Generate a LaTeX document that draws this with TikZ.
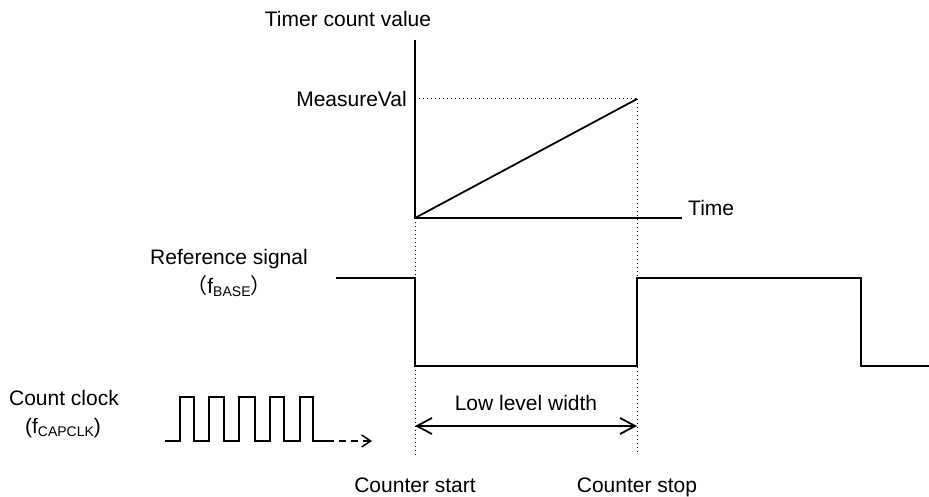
\documentclass[tikz,border=0pt]{standalone}
\usepackage{fontspec}
\setmainfont{Liberation Sans}
\newfontfamily\cjkfnt{Noto Sans CJK SC}
\usetikzlibrary{arrows.meta}
\newcommand{\mysubtxt}[1]{\raisebox{-0.35ex}{\fontsize{14}{14}\selectfont #1}}
\begin{document}
\begin{tikzpicture}[x=1pt,y=-1pt,
  lbl/.style={font=\fontsize{21}{21}\selectfont, inner sep=0pt, anchor=base},
  dotln/.style={line width=1pt, dash pattern=on 1pt off 3pt},
  solidln/.style={line width=1.8pt, line join=miter},
  barb/.style={-{Straight Barb[length=15pt,width=16pt,line width=1.8pt]}},
  dbarb/.style={{Straight Barb[length=15pt,width=16pt,line width=1.8pt]}-{Straight Barb[length=15pt,width=16pt,line width=1.8pt]}},
  smallbarb/.style={-{Straight Barb[length=9pt,width=12pt,line width=1.5pt]}}]
\useasboundingbox (0,0) rectangle (929,497);

% graph coordinates
\coordinate (O) at (415,218);
\coordinate (Ytop) at (415,40);
\coordinate (Xend) at (682,218);
\coordinate (M) at (637,99);
\coordinate (My) at (415,99);
\coordinate (S1) at (415,455);
\coordinate (S2) at (637,455);

% dotted guides
\draw[dotln] (My) -- (M);
\draw[dotln] (O) -- (S1);
\draw[dotln] (M) -- (S2);

% axes and ramp
\draw[solidln] (Ytop) -- (O) -- (Xend);
\draw[solidln] (O) -- (M);

% reference signal
\draw[solidln] (336,278) -- (415,278) -- (415,366) -- (637,366) -- (637,278) -- (861,278) -- (861,366) -- (929,366);

% count clock
\draw[solidln] (165,441) -- (180,441) -- (180,397) -- (194,397) -- (194,441)
  -- (209,441) -- (209,397) -- (224,397) -- (224,441)
  -- (239,441) -- (239,397) -- (255,397) -- (255,441)
  -- (270,441) -- (270,397) -- (284,397) -- (284,441)
  -- (300,441) -- (300,397) -- (313,397) -- (313,441) -- (327,441);
\coordinate (C1) at (327,441);
\coordinate (C2) at (372,441);
\draw[line width=1.5pt, dash pattern=on 7pt off 5pt, smallbarb] (C1) -- (C2);

% low level width arrow
\coordinate (L1) at (415,426);
\coordinate (L2) at (637,426);
\draw[solidln, dbarb] (L1) -- (L2);

% labels
\node[lbl] (tcv) at (348,27) {Timer count value};
\node[lbl, anchor=base east] (mv) at (407,107) {MeasureVal};
\node[lbl, anchor=base west] (time) at (688,216) {Time};
\node[lbl] (refs) at (229,264) {Reference signal};
\node[lbl] (fbase) at (229,293) {{\cjkfnt （}f\mysubtxt{BASE}{\cjkfnt ）}};
\node[lbl] (cc) at (64,405) {Count clock};
\node[lbl] (fcap) at (63,433) {(f\mysubtxt{CAPCLK})};
\node[lbl] (llw) at (526,410) {Low level width};
\node[lbl] (cstart) at (415,492) {Counter start};
\node[lbl] (cstop) at (637,492) {Counter stop};
\end{tikzpicture}
\end{document}
